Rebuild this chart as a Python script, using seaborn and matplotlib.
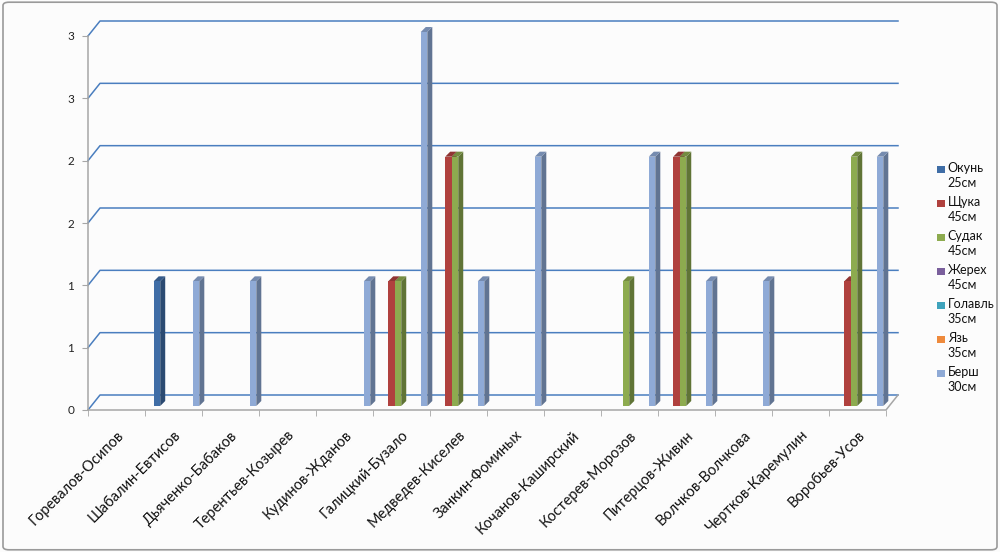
import matplotlib
matplotlib.use("Agg")
import matplotlib.pyplot as plt
from matplotlib.patches import Polygon, Patch, Rectangle, FancyBboxPatch
from matplotlib.lines import Line2D
from matplotlib.legend_handler import HandlerPatch
from matplotlib.transforms import IdentityTransform, offset_copy
import seaborn as sns
import pandas as pd
import numpy as np

# пары рыбаков
pairs = ["Горевалов-Осипов", "Шабалин-Евтисов", "Дьяченко-Бабаков",
         "Терентьев-Козырев", "Кудинов-Жданов", "Галицкий-Бузало",
         "Медведев-Киселев", "Занкин-Фоминых", "Кочанов-Каширский",
         "Костерев-Морозов", "Питерцов-Живин", "Волчков-Волчкова",
         "Чертков-Каремулин", "Воробьев-Усов"]

fish = ["Окунь\n25см", "Щука\n45см", "Судак\n45см", "Жерех\n45см",
        "Голавль\n35см", "Язь\n35см", "Берш\n30см"]

okun    = [0, 1, 0, 0, 0, 0, 0, 0, 0, 0, 0, 0, 0, 0]
shchuka = [0, 0, 0, 0, 0, 1, 2, 0, 0, 0, 2, 0, 0, 1]
sudak   = [0, 0, 0, 0, 0, 1, 2, 0, 0, 1, 2, 0, 0, 2]
zhereh  = [0, 0, 0, 0, 0, 0, 0, 0, 0, 0, 0, 0, 0, 0]
golavl  = [0, 0, 0, 0, 0, 0, 0, 0, 0, 0, 0, 0, 0, 0]
yaz     = [0, 0, 0, 0, 0, 0, 0, 0, 0, 0, 0, 0, 0, 0]
bersh   = [0, 1, 1, 0, 1, 3, 1, 2, 0, 2, 1, 1, 0, 2]

y_ticks = [0, 0.5, 1, 1.5, 2, 2.5, 3]
y_tick_labels = ["0", "1", "1", "2", "2", "3", "3"]

colors = ["#3F6DA6", "#B0413E", "#8DAB4F", "#7A5F9C", "#3FA3BC", "#EE8A3C", "#8FAAD6"]

series = [okun, shchuka, sudak, zhereh, golavl, yaz, bersh]
rows = []
for f, vals in zip(fish, series):
    for p, v in zip(pairs, vals):
        rows.append({"pair": p, "fish": f, "count": v})
df = pd.DataFrame(rows)

fig = plt.figure(figsize=(10, 5.52), dpi=100)
fig.patch.set_facecolor("#FCFCFC")
W, H = 1000, 552
ax = fig.add_axes([88 / W, 1 - 410 / H, 798 / W, 374 / H])
ax.set_facecolor("none")

sns.barplot(data=df, x="pair", y="count", hue="fish", order=pairs, hue_order=fish,
            palette=colors, width=0.8, saturation=1, linewidth=0, legend=False, ax=ax)

ax.set_xlim(-0.5, len(pairs) - 0.5)
ax.set_ylim(0, 3)
for s in ax.spines.values():
    s.set_visible(False)

# глубина 3D: задняя стенка
back_dx, back_dy = 12, 15
grid_color = "#4A7EBF"
tr = ax.transData
for v in y_ticks:
    x0, y0 = tr.transform((-0.5, v))
    x1, y1 = tr.transform((len(pairs) - 0.5, v))
    ax.add_line(Line2D([x0, x0 + back_dx, x1 + back_dx], [y0, y0 + back_dy, y1 + back_dy],
                       color=grid_color, lw=1.1, transform=IdentityTransform(),
                       clip_on=False, zorder=0))

# пол: передняя кромка и правый край
fx0, fy0 = tr.transform((-0.5, 0))
fx1, fy1 = tr.transform((len(pairs) - 0.5, 0))
ax.add_line(Line2D([fx0, fx1, fx1 + back_dx], [fy0, fy1, fy1 + back_dy], color="#A6A6A6",
                   lw=1.1, transform=IdentityTransform(), clip_on=False, zorder=1))
tx, ty = tr.transform((-0.5, 3))
ax.add_line(Line2D([fx0, tx], [fy0, ty], color="#A6A6A6", lw=1.1,
                   transform=IdentityTransform(), clip_on=False, zorder=1))

# объем столбиков (рисуем слева направо, чтобы соседний столбик закрывал боковую грань)
bar_off = offset_copy(tr, fig=fig, x=3, y=4, units="dots")
d = 5
bars = [(p, c) for p, c in zip(ax.patches, np.repeat(colors, len(pairs)))]
bars.sort(key=lambda pc: pc[0].get_x())
for k, (patch, col) in enumerate(bars):
    h = patch.get_height()
    if h <= 0:
        patch.set_visible(False)
        continue
    z = 3 + k * 0.01
    patch.set_transform(bar_off)
    patch.set_clip_on(False)
    patch.set_zorder(z + 0.005)
    xa, ya = bar_off.transform((patch.get_x(), 0))
    xb, yb = bar_off.transform((patch.get_x() + patch.get_width(), h))
    rgb = np.array(matplotlib.colors.to_rgb(col))
    side = Polygon([(xb, ya), (xb + d, ya + d), (xb + d, yb + d), (xb, yb)],
                   closed=True, facecolor=rgb * 0.68, edgecolor="none",
                   transform=IdentityTransform(), clip_on=False, zorder=z)
    top = Polygon([(xa, yb), (xa + d, yb + d), (xb + d, yb + d), (xb, yb)],
                  closed=True, facecolor=rgb * 0.82, edgecolor="none",
                  transform=IdentityTransform(), clip_on=False, zorder=z)
    ax.add_patch(side)
    ax.add_patch(top)

# оси
ax.set_yticks(y_ticks)
ax.set_yticklabels(y_tick_labels)
ax.tick_params(axis="y", length=4, color="#A6A6A6", labelsize=8.5, pad=6, labelcolor="#222222")
ax.set_xticks(range(len(pairs)))
ax.set_xticklabels(pairs, rotation=45, ha="right", rotation_mode="anchor")
ax.set_xticks(np.arange(-0.5, len(pairs), 1), minor=True)
ax.tick_params(axis="x", which="major", length=0, labelsize=10.5, pad=13, labelcolor="#111111")
ax.tick_params(axis="x", which="minor", length=4, color="#A6A6A6")
ax.set_xlabel("")
ax.set_ylabel("")
for lab in ax.get_xticklabels() + ax.get_yticklabels():
    lab.set_fontfamily(["Lato", "DejaVu Sans"])


def top_square(legend, orig_handle, xdescent, ydescent, width, height, fontsize):
    # квадрат маркера на уровне первой строки подписи
    s = fontsize * 0.6
    y = ydescent + (height - s) / 2 + fontsize * 0.62
    return Rectangle((xdescent, y), s, s)


handles = [Patch(facecolor=c, edgecolor="none") for c in colors]
leg = fig.legend(handles, fish, loc="upper left", bbox_to_anchor=(926 / W, 1 - 151 / H),
                 frameon=False, handlelength=0.6, handleheight=0.6,
                 handletextpad=0.25, labelspacing=0.56,
                 handler_map={Patch: HandlerPatch(patch_func=top_square)},
                 prop={"family": ["Lato", "DejaVu Sans"], "size": 9})
for t in leg.get_texts():
    t.set_linespacing(1.3)
    t.set_color("#111111")

border = FancyBboxPatch((0.003, 0.004), 0.994, 0.992, boxstyle="round,pad=0,rounding_size=0.006",
                        transform=fig.transFigure, facecolor="none", edgecolor="#9A9A9A", lw=1.2)
fig.add_artist(border)

fig.savefig("out.png", dpi=100)
